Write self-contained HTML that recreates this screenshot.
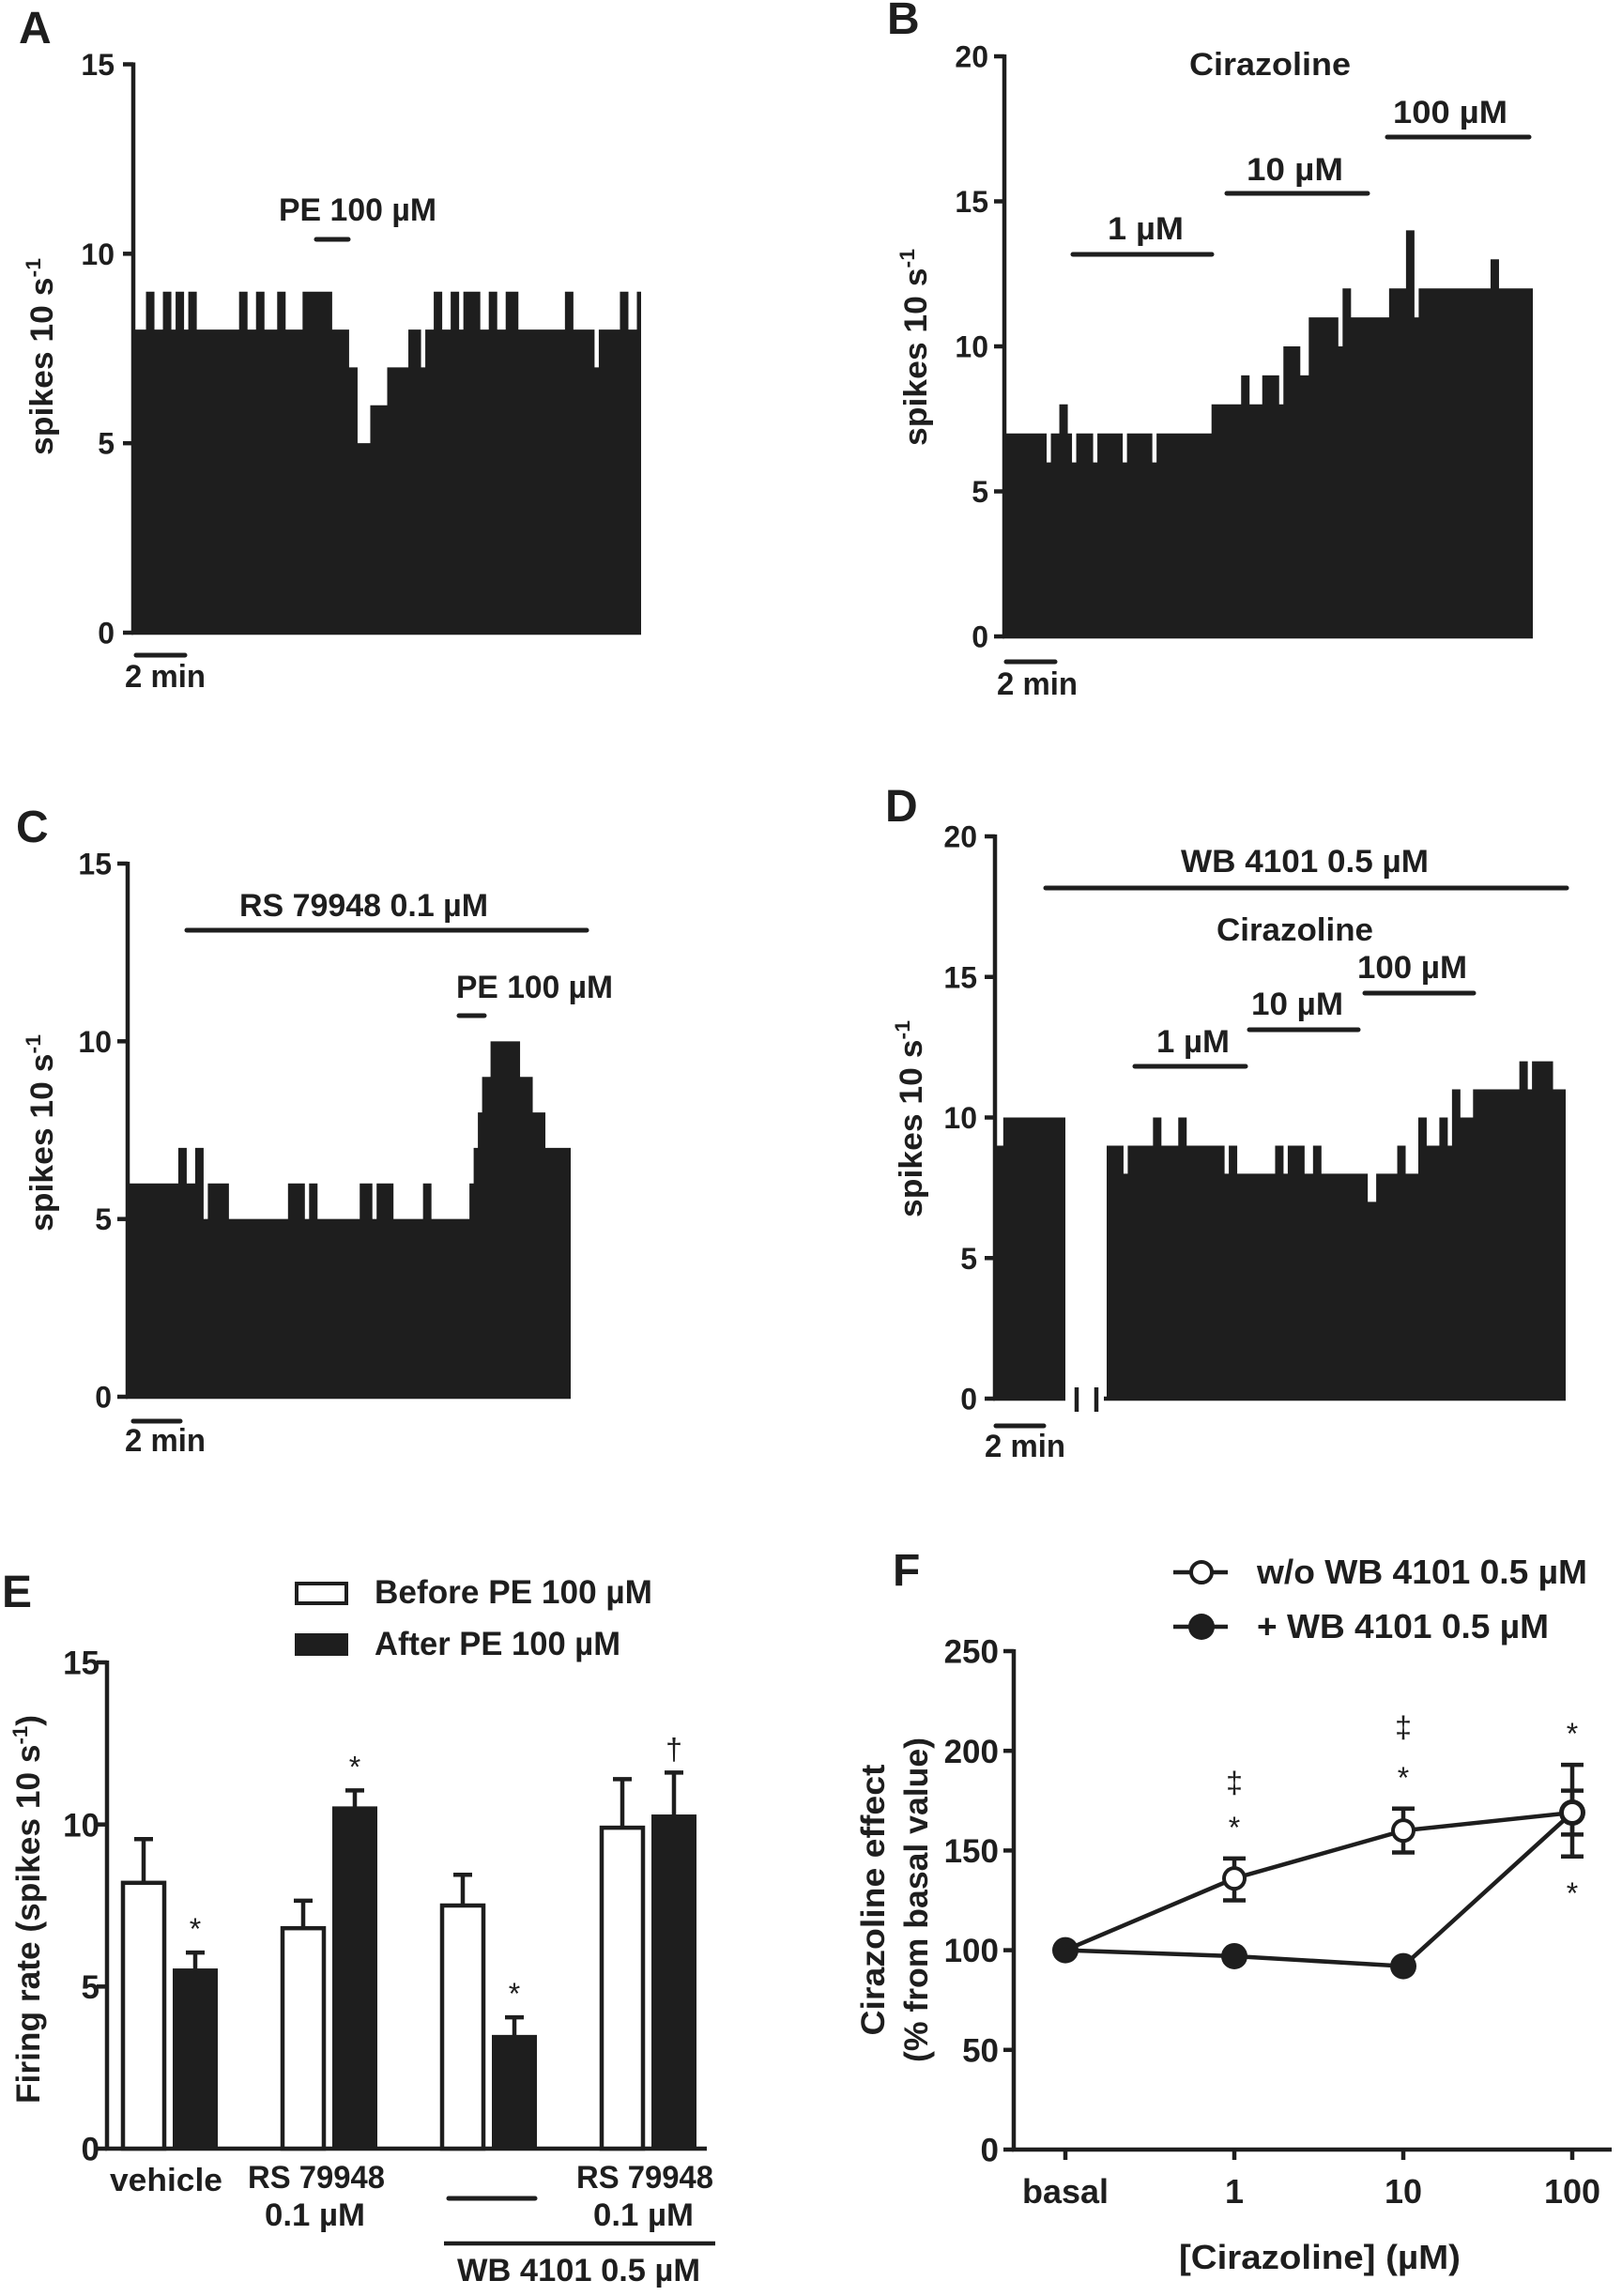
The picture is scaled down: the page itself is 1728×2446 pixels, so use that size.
<!DOCTYPE html>
<html><head><meta charset="utf-8"><title>Firing rate figure</title>
<style>
html,body{margin:0;padding:0;background:#fff;}
svg{display:block;font-family:"Liberation Sans",Arial,sans-serif;font-weight:bold;}
.t{font-size:34px;fill:#1e1e1e;}
.tk{fill:#1e1e1e;text-anchor:end;}
.pl{font-size:48px;fill:#1e1e1e;}
.ax{stroke:#1e1e1e;stroke-width:4.5;fill:none;}
.bar{stroke:#1e1e1e;stroke-width:5;stroke-linecap:round;}
</style></head>
<body>
<svg id="fig" width="1728" height="2446" viewBox="0 0 1728 2446" xmlns="http://www.w3.org/2000/svg">
<g>
<text class="pl" x="20" y="46">A</text>
<text class="t" transform="translate(56,380) rotate(-90)" text-anchor="middle" textLength="210" lengthAdjust="spacingAndGlyphs">spikes 10 s<tspan font-size="22" dy="-13">-1</tspan></text>
<text class="t" x="297" y="235" textLength="168" lengthAdjust="spacingAndGlyphs">PE 100 µM</text>
<line class="bar" x1="337" y1="255" x2="371" y2="255"/>
<line class="bar" x1="145" y1="698" x2="197" y2="698"/>
<text class="t" x="133" y="732" textLength="86" lengthAdjust="spacingAndGlyphs">2 min</text>
</g>
<g>
<text class="pl" x="945" y="36">B</text>
<text class="t" transform="translate(987,370) rotate(-90)" text-anchor="middle" textLength="210" lengthAdjust="spacingAndGlyphs">spikes 10 s<tspan font-size="22" dy="-13">-1</tspan></text>
<text class="t" x="1267" y="80" textLength="172" lengthAdjust="spacingAndGlyphs">Cirazoline</text>
<text class="t" x="1180" y="255" textLength="81" lengthAdjust="spacingAndGlyphs">1 µM</text>
<line class="bar" x1="1143" y1="271" x2="1291" y2="271"/>
<text class="t" x="1328" y="192" textLength="103" lengthAdjust="spacingAndGlyphs">10 µM</text>
<line class="bar" x1="1307" y1="206" x2="1457" y2="206"/>
<text class="t" x="1484" y="131" textLength="122" lengthAdjust="spacingAndGlyphs">100 µM</text>
<line class="bar" x1="1478" y1="146" x2="1629" y2="146"/>
<line class="bar" x1="1072" y1="705" x2="1124" y2="705"/>
<text class="t" x="1062" y="740" textLength="86" lengthAdjust="spacingAndGlyphs">2 min</text>
</g>
<g>
<text class="pl" x="17" y="897">C</text>
<text class="t" transform="translate(56,1207) rotate(-90)" text-anchor="middle" textLength="210" lengthAdjust="spacingAndGlyphs">spikes 10 s<tspan font-size="22" dy="-13">-1</tspan></text>
<text class="t" x="255" y="976" textLength="265" lengthAdjust="spacingAndGlyphs">RS 79948 0.1 µM</text>
<line class="bar" x1="199" y1="991" x2="625" y2="991"/>
<text class="t" x="486" y="1063" textLength="167" lengthAdjust="spacingAndGlyphs">PE 100 µM</text>
<line class="bar" x1="489" y1="1082" x2="516" y2="1082"/>
<line class="bar" x1="142" y1="1514" x2="192" y2="1514"/>
<text class="t" x="133" y="1546" textLength="86" lengthAdjust="spacingAndGlyphs">2 min</text>
</g>
<g>
<text class="pl" x="943" y="875">D</text>
<text class="t" transform="translate(982,1192) rotate(-90)" text-anchor="middle" textLength="210" lengthAdjust="spacingAndGlyphs">spikes 10 s<tspan font-size="22" dy="-13">-1</tspan></text>
<text class="t" x="1258" y="929" textLength="264" lengthAdjust="spacingAndGlyphs">WB 4101 0.5 µM</text>
<line class="bar" x1="1114" y1="946" x2="1669" y2="946"/>
<text class="t" x="1296" y="1002" textLength="167" lengthAdjust="spacingAndGlyphs">Cirazoline</text>
<text class="t" x="1232" y="1121" textLength="78" lengthAdjust="spacingAndGlyphs">1 µM</text>
<line class="bar" x1="1209" y1="1136" x2="1327" y2="1136"/>
<text class="t" x="1333" y="1081" textLength="98" lengthAdjust="spacingAndGlyphs">10 µM</text>
<line class="bar" x1="1331" y1="1097" x2="1447" y2="1097"/>
<text class="t" x="1446" y="1042" textLength="117" lengthAdjust="spacingAndGlyphs">100 µM</text>
<line class="bar" x1="1454" y1="1058" x2="1570" y2="1058"/>
<line class="ax" x1="1147" y1="1478" x2="1147" y2="1504"/>
<line class="ax" x1="1168" y1="1478" x2="1168" y2="1504"/>
<line class="bar" x1="1061" y1="1519" x2="1112" y2="1519"/>
<text class="t" x="1049" y="1552" textLength="86" lengthAdjust="spacingAndGlyphs">2 min</text>
</g>
<g>
<text class="pl" x="2" y="1712">E</text>
<rect x="316" y="1687" width="53" height="21" fill="#fff" stroke="#1e1e1e" stroke-width="4"/>
<text x="399" y="1708" font-size="35" fill="#1e1e1e" textLength="296" lengthAdjust="spacingAndGlyphs">Before PE 100  µM</text>
<rect x="314" y="1740" width="57" height="24" fill="#1e1e1e"/>
<text x="399" y="1763" font-size="35" fill="#1e1e1e" textLength="262" lengthAdjust="spacingAndGlyphs">After PE 100  µM</text>
<text transform="translate(42,2034) rotate(-90)" text-anchor="middle" font-size="35" fill="#1e1e1e" textLength="414" lengthAdjust="spacingAndGlyphs">Firing rate (spikes 10 s<tspan font-size="22" dy="-13">-1</tspan><tspan dy="13">)</tspan></text>
<text class="t" x="117" y="2334" textLength="120" lengthAdjust="spacingAndGlyphs">vehicle</text>
<text class="t" x="264" y="2331" textLength="146" lengthAdjust="spacingAndGlyphs">RS 79948</text>
<text class="t" x="282" y="2371" textLength="107" lengthAdjust="spacingAndGlyphs">0.1 µM</text>
<line class="bar" x1="478" y1="2342" x2="570" y2="2342"/>
<text class="t" x="614" y="2331" textLength="146" lengthAdjust="spacingAndGlyphs">RS 79948</text>
<text class="t" x="632" y="2371" textLength="107" lengthAdjust="spacingAndGlyphs">0.1 µM</text>
<line class="ax" x1="473" y1="2390" x2="762" y2="2390"/>
<text class="t" x="487" y="2430" textLength="259" lengthAdjust="spacingAndGlyphs">WB 4101 0.5 µM</text>
</g>
<g>
<text class="pl" x="951" y="1689">F</text>
<line class="ax" x1="1250" y1="1675" x2="1308" y2="1675"/>
<circle cx="1280" cy="1675" r="11" fill="#fff" stroke="#1e1e1e" stroke-width="4"/>
<text x="1339" y="1687" font-size="36" fill="#1e1e1e" textLength="352" lengthAdjust="spacingAndGlyphs">w/o WB 4101 0.5  µM</text>
<line class="ax" x1="1250" y1="1733" x2="1308" y2="1733"/>
<circle cx="1280" cy="1733" r="14" fill="#1e1e1e"/>
<text x="1339" y="1745" font-size="36" fill="#1e1e1e" textLength="311" lengthAdjust="spacingAndGlyphs">+ WB 4101 0.5  µM</text>
<text transform="translate(942,2024) rotate(-90)" text-anchor="middle" font-size="35" fill="#1e1e1e" textLength="289" lengthAdjust="spacingAndGlyphs">Cirazoline effect</text>
<text transform="translate(988,2024) rotate(-90)" text-anchor="middle" font-size="35" fill="#1e1e1e" textLength="346" lengthAdjust="spacingAndGlyphs">(% from basal value)</text>
<text x="1256" y="2417" font-size="36" fill="#1e1e1e" textLength="300" lengthAdjust="spacingAndGlyphs">[Cirazoline] (µM)</text>
</g>
</svg>
<script>
// ---- Panel A data (spikes per 10 s bin) ----
const histA = [8,8,8,9,9,8,8,9,9,8,9,9,8,9,9,8,8,8,8,8,8,8,8,8,8,9,9,8,8,9,9,8,8,8,9,9,8,8,8,8,9,9,9,9,9,9,9,8,8,8,8,7,7,5,5,5,6,6,6,6,7,7,7,7,7,8,8,8,7,8,8,9,9,8,8,9,9,8,9,9,9,9,8,8,9,9,8,8,9,9,9,8,8,8,8,8,8,8,8,8,8,8,9,9,8,8,8,8,8,7,8,8,8,8,8,9,9,8,8,9];
const ticksA = [0,5,10,15];
// ---- Panel B data ----
const histB = [7,7,7,7,7,7,7,7,7,7, 6,7,7,8,8,7,6,7,7,7, 7,6,7,7,7,7,7,7,6,7, 7,7,7,7,7,6,7,7,7,7, 7,7,7,7,7,7,7,7,7,8, 8,8,8,8,8,8,9,9,8,8, 8,9,9,9,9,8,10,10,10,10, 9,9,11,11,11,11,11,11,11,10, 12,12,11,11,11,11,11,11,11,11, 11,12,12,12,12,14,14,11,12,12, 12,12,12,12,12,12,12,12,12,12, 12,12,12,12,12,13,13,12,12,12, 12,12,12,12,12];
const ticksB = [0,5,10,15,20];
// ---- Panel C data ----
const histC = [6,6,6,6,6,6,6,6,6,6, 6,6,7,7,6,6,7,7,5,6, 6,6,6,6,5,5,5,5,5,5, 5,5,5,5,5,5,5,5,6,6, 6,6,5,6,6,5,5,5,5,5, 5,5,5,5,5,6,6,6,5,6, 6,6,6,5,5,5,5,5,5,5, 6,6,5,5,5,5,5,5,5,5, 5,6,7,8,9,9,10,10,10,10, 10,10,10,9,9,9,8,8,8,7, 7,7,7,7,7];
const ticksC = [0,5,10,15];
// ---- Panel D data (before break / after break) ----
const histD1 = [9,9,10,10,10,10,10,10,10,10,10,10,10,10,10,10,10];
const histD2 = [9,9,9,9,8,9,9,9,9,9, 9,10,10,9,9,9,9,10,10,9, 9,9,9,9,9,9,9,9,8,9, 9,8,8,8,8,8,8,8,8,8, 9,9,8,9,9,9,9,8,8,9, 9,8,8,8,8,8,8,8,8,8, 8,8,7,7,8,8,8,8,8,9, 9,8,8,8,10,10,9,9,9,10, 10,9,11,11,10,10,10,11,11,11, 11,11,11,11,11,11,11,11,12,12, 11,12,12,12,12,12,11,11,11];
const ticksD = [0,5,10,15,20];
// ---- Panel E data ----
const groupsE = ["vehicle","RS 79948 0.1 uM","WB 4101","WB 4101 + RS 79948"];
const beforeMean = [8.2, 6.8, 7.5, 9.9];
const beforeErr  = [1.35, 0.85, 0.95, 1.5];
const afterMean  = [5.5, 10.5, 3.45, 10.25];
const afterErr   = [0.55, 0.55, 0.6, 1.35];
const afterMarks = ["*","*","*","\u2020"];
const ticksE = [0,5,10,15];
// ---- Panel F data ----
const catsF = ["basal","1","10","100"];
const openMean = [100, 136, 160, 169];
const openHi   = [100, 146, 171, 180];
const openLo   = [100, 125, 149, 158];
const filledMean = [100, 97, 92, 169];
const filledHi   = [100, 97, 92, 193];
const filledLo   = [100, 97, 92, 147];
const ticksF = [0,50,100,150,200,250];

const NS = "http://www.w3.org/2000/svg";
const svg = document.getElementById("fig");
function mk(tag, attrs, parent){
  const e = document.createElementNS(NS, tag);
  for (const k in attrs) e.setAttribute(k, attrs[k]);
  (parent || svg).appendChild(e);
  return e;
}
const INK = "#1e1e1e";
function linScale(d0, d1, r0, r1){ return v => r0 + (v - d0) * (r1 - r0) / (d1 - d0); }

function drawHist(vals, x0, x1, y, name){
  const w = (x1 - x0) / vals.length;
  let d = "M" + x0 + "," + y(0);
  vals.forEach((v, i) => {
    d += " L" + (x0 + i*w) + "," + y(v) + " L" + (x0 + (i+1)*w) + "," + y(v);
  });
  d += " L" + x1 + "," + y(0) + " Z";
  const p = mk("path", {d: d, fill: INK});
  
  
}

function drawYAxis(ax, y, ticks, labelX, topV, xEnd, prefix, fs){
  const l = mk("line", {x1: ax, y1: y(topV) - 2, x2: ax, y2: y(0) + 2, class: "ax"});
  
  
  if (xEnd){
    const b = mk("line", {x1: ax - 2, y1: y(0), x2: xEnd, y2: y(0), class: "ax"});
    
    
  }
  ticks.forEach(t => {
    const tk = mk("line", {x1: ax - 11, y1: y(t), x2: ax, y2: y(t), class: "ax"});
    
    
    const tx = mk("text", {x: labelX, y: y(t) + fs*0.36, class: "tk", "font-size": fs});
    tx.textContent = t;
    
    
  });
}

const yA = linScale(0, 15, 674, 68.5);
drawHist(histA, 142, 683, yA, "panel-a-histogram");
drawYAxis(142, yA, ticksA, 122, 15, 683, "panel-a", 32);
const yB = linScale(0, 20, 678, 60);
drawHist(histB, 1070, 1633, yB, "panel-b-histogram");
drawYAxis(1070, yB, ticksB, 1053, 20, 1633, "panel-b", 32);
const yC = linScale(0, 15, 1488, 920);
drawHist(histC, 136, 608, yC, "panel-c-histogram");
drawYAxis(136, yC, ticksC, 119, 15, 608, "panel-c", 32);
const yD = linScale(0, 20, 1490, 891);
drawHist(histD1, 1060, 1135, yD, "panel-d-histogram-before-break");
drawHist(histD2, 1179, 1668, yD, "panel-d-histogram-after-break");
drawYAxis(1060, yD, ticksD, 1041, 20, 1135, "panel-d", 32);
const dAx2 = mk("line", {x1: 1176, y1: yD(0), x2: 1668, y2: yD(0), class: "ax"});



const yE = linScale(0, 15, 2289, 1771);
drawYAxis(114, yE, ticksE, 106, 15, 753, "panel-e", 35);
const groupX = i => 129 + i * 170;
const BW = 48, GAP = 7;
function errUp(cx, top, err, y, name){
  const g = mk("g", {});
  
  
  mk("line", {x1: cx, y1: y(top), x2: cx, y2: y(top + err), stroke: INK, "stroke-width": 4.5}, g);
  mk("line", {x1: cx - 10, y1: y(top + err), x2: cx + 10, y2: y(top + err), stroke: INK, "stroke-width": 4.5}, g);
}
groupsE.forEach((gname, i) => {
  const x0 = groupX(i);
  const rb = mk("rect", {x: x0 + 2, y: yE(beforeMean[i]), width: BW - 4, height: yE(0) - yE(beforeMean[i]), fill: "#fff", stroke: INK, "stroke-width": 4.5});
  
  
  errUp(x0 + BW/2, beforeMean[i], beforeErr[i], yE, 'error-before-' + i);
  const x1 = x0 + BW + GAP;
  const ra = mk("rect", {x: x1, y: yE(afterMean[i]) - 2, width: BW, height: yE(0) - yE(afterMean[i]) + 2, fill: INK});
  
  
  errUp(x1 + BW/2, afterMean[i], afterErr[i], yE, 'error-after-' + i);
  const st = mk("text", {x: x1 + BW/2, y: yE(afterMean[i] + afterErr[i]) - 14, "text-anchor": "middle", "font-size": 32, "font-weight": "normal", fill: INK});
  st.textContent = afterMarks[i];
  
  
});

const yF = linScale(0, 250, 2290, 1759);
drawYAxis(1080, yF, ticksF, 1064, 250, 1717, "panel-f", 35);
const xF = i => 1135 + i * 180;
catsF.forEach((c, i) => {
  const t = mk("line", {x1: xF(i), y1: yF(0), x2: xF(i), y2: yF(0) + 11, class: "ax"});
  
  
  const l = mk("text", {x: xF(i), y: 2347, "text-anchor": "middle", "font-size": 36, fill: INK});
  l.textContent = c;
  
  
});
function series(mean, name){
  const pts = mean.map((v, i) => xF(i) + "," + yF(v)).join(" ");
  const p = mk("polyline", {points: pts, fill: "none", stroke: INK, "stroke-width": 4.5});
  
  
}
function errF(hi, lo, name){
  hi.forEach((h, i) => {
    if (h === lo[i]) return;
    const g = mk("g", {});
    
    
    mk("line", {x1: xF(i), y1: yF(h), x2: xF(i), y2: yF(lo[i]), stroke: INK, "stroke-width": 4.5}, g);
    mk("line", {x1: xF(i) - 12, y1: yF(h), x2: xF(i) + 12, y2: yF(h), stroke: INK, "stroke-width": 4.5}, g);
    mk("line", {x1: xF(i) - 12, y1: yF(lo[i]), x2: xF(i) + 12, y2: yF(lo[i]), stroke: INK, "stroke-width": 4.5}, g);
  });
}
series(openMean, "series-without-wb-line");
series(filledMean, "series-with-wb-line");
errF(openHi, openLo, "error-without-wb");
errF(filledHi, filledLo, "error-with-wb");
filledMean.forEach((v, i) => {
  const c = mk("circle", {cx: xF(i), cy: yF(v), r: 14, fill: INK});
  
  
});
openMean.forEach((v, i) => {
  if (i === 0) return;
  const c = mk("circle", {cx: xF(i), cy: yF(v), r: 11, fill: "#fff", stroke: INK, "stroke-width": 4});
  
  
});
const marksF = [
  {i:1, v:openHi[1], off:[22, 70], s:["*","\u2021"]},
  {i:2, v:openHi[2], off:[22, 76], s:["*","\u2021"]},
  {i:3, v:filledHi[3], off:[22], s:["*"]}
];
marksF.forEach(m => {
  m.s.forEach((s, k) => {
    const t = mk("text", {x: xF(m.i), y: yF(m.v) - m.off[k], "text-anchor": "middle", "font-size": 32, "font-weight": "normal", fill: INK});
    t.textContent = s;
    
    
  });
});
const lowMark = mk("text", {x: xF(3), y: yF(filledLo[3]) + 50, "text-anchor": "middle", "font-size": 32, "font-weight": "normal", fill: INK});
lowMark.textContent = "*";


</script>
</body></html>
